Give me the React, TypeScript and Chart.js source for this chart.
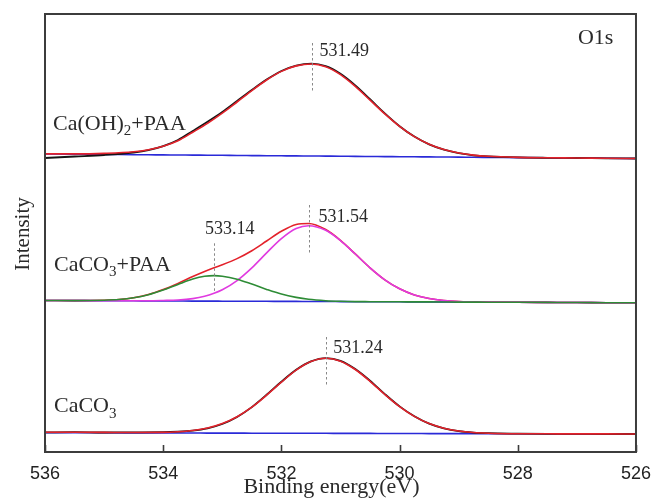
import React, { useEffect, useRef } from "react";
import { Chart, registerables } from "chart.js";

Chart.register(...registerables);

// x axis (binding energy, eV)
const xTickValues = [536, 534, 532, 530, 528, 526];

// ---- Ca(OH)2+PAA ----
const energyA = [536, 535.5, 535, 534.5, 534.25, 534, 533.75, 533.5, 533.25, 533, 532.75, 532.5, 532.25, 532, 531.75, 531.49, 531.25, 531, 530.75, 530.5, 530.25, 530, 529.75, 529.5, 529.25, 529, 528.75, 528.5, 528, 527.5, 527, 526.5, 526];
const rawA = [294.0, 295.5, 297.0, 299.5, 301.8, 305.8, 312.0, 321.0, 330.2, 340.0, 351.0, 362.0, 372.4, 381.0, 386.4, 388.3, 385.8, 378.2, 366.6, 352.8, 338.6, 325.8, 315.4, 307.6, 302.3, 298.8, 296.7, 295.6, 294.6, 294.2, 294.0, 293.7, 293.5];
const fitA = [298.1, 298.1, 298.6, 300.2, 302.3, 305.8, 311.3, 319.8, 328.6, 338.8, 350.0, 361.4, 372.0, 380.6, 386.1, 388.0, 385.3, 377.4, 365.6, 351.9, 338.1, 325.6, 315.4, 307.8, 302.5, 299.0, 296.9, 295.7, 294.6, 294.2, 294.0, 293.7, 293.5];
const bgA = [298.0, 297.8, 297.6, 297.3, 297.2, 297.1, 297.0, 296.9, 296.8, 296.7, 296.5, 296.4, 296.3, 296.2, 296.1, 296.0, 295.9, 295.8, 295.6, 295.5, 295.4, 295.3, 295.2, 295.1, 295.0, 294.9, 294.7, 294.6, 294.4, 294.2, 294.0, 293.7, 293.5];

// ---- CaCO3+PAA ----
const energyB = [536, 535.5, 535, 534.75, 534.5, 534.25, 534, 533.75, 533.5, 533.3, 533.14, 533, 532.75, 532.5, 532.25, 532, 531.75, 531.54, 531.25, 531, 530.75, 530.5, 530.25, 530, 529.75, 529.5, 529.25, 529, 528.5, 528, 527.5, 527, 526.5, 526];
const fitB = [151.5, 151.4, 151.8, 152.5, 154.2, 157.4, 162.4, 168.6, 175.4, 180.5, 184.2, 187.2, 193.4, 201.3, 211.0, 220.7, 227.5, 228.5, 222.5, 211.7, 198.1, 184.2, 172.2, 163.2, 157.1, 153.5, 151.5, 150.5, 149.9, 149.7, 149.6, 149.5, 149.3, 149.2];
const peak53154B = [151.5, 151.4, 151.3, 151.2, 151.2, 151.2, 151.5, 152.0, 153.4, 155.7, 158.7, 162.2, 171.4, 184.1, 199.1, 213.4, 223.5, 226.3, 221.7, 211.4, 198.0, 184.2, 172.2, 163.2, 157.1, 153.5, 151.5, 150.5, 149.9, 149.7, 149.6, 149.5, 149.3, 149.2];
const peak53314B = [151.5, 151.4, 151.8, 152.5, 154.2, 157.3, 162.0, 167.6, 172.9, 175.7, 176.4, 175.8, 172.8, 167.9, 162.6, 157.9, 154.6, 152.7, 151.3, 150.7, 150.4, 150.3, 150.2, 150.2, 150.1, 150.1, 150.0, 149.9, 149.8, 149.7, 149.6, 149.5, 149.3, 149.2];
const bgB = [151.5, 151.4, 151.3, 151.2, 151.2, 151.1, 151.1, 151.0, 150.9, 150.9, 150.9, 150.8, 150.8, 150.7, 150.7, 150.6, 150.6, 150.5, 150.5, 150.4, 150.3, 150.3, 150.2, 150.2, 150.1, 150.1, 150.0, 149.9, 149.8, 149.7, 149.6, 149.5, 149.3, 149.2];

// ---- CaCO3 ----
const energyC = [536, 535.5, 535, 534.5, 534, 533.75, 533.5, 533.25, 533, 532.75, 532.5, 532.25, 532, 531.75, 531.5, 531.24, 531, 530.75, 530.5, 530.25, 530, 529.75, 529.5, 529.25, 529, 528.75, 528.5, 528, 527.5, 527, 526.5, 526];
const rawC = [19.6, 19.9, 19.5, 19.7, 19.8, 20.3, 21.4, 23.7, 28.0, 35.0, 44.9, 57.2, 70.3, 82.2, 90.6, 93.9, 91.2, 83.0, 71.3, 57.9, 45.6, 35.7, 28.3, 23.6, 20.8, 19.4, 18.8, 18.4, 18.2, 18.1, 18.0, 18.0];
const fitC = [19.8, 19.7, 19.6, 19.5, 19.6, 20.2, 21.5, 24.0, 28.4, 35.3, 44.8, 56.8, 69.8, 81.8, 90.4, 93.7, 90.8, 82.5, 70.7, 57.5, 45.4, 35.6, 28.4, 23.8, 21.0, 19.5, 18.8, 18.3, 18.2, 18.1, 18.1, 18.0];
const bgC = [19.3, 19.2, 19.2, 19.1, 19.0, 19.0, 19.0, 18.9, 18.9, 18.9, 18.8, 18.8, 18.8, 18.7, 18.7, 18.7, 18.6, 18.6, 18.6, 18.5, 18.5, 18.5, 18.4, 18.4, 18.4, 18.3, 18.3, 18.2, 18.2, 18.1, 18.1, 18.0];

// peak annotations
const peakEnergies = [531.49, 531.54, 533.14, 531.24];
const peakLabels = ["531.49", "531.54", "533.14", "531.24"];

const SERIF = '"Liberation Serif", "Times New Roman", serif';
const SANS = '"Liberation Sans", Arial, sans-serif';

const BLACK = "#151515";
const RED = "#e3222b";
const BLUE = "#2a2ad8";
const GREEN = "#2e8c36";
const MAGENTA = "#e03ae0";

type Part = [string, boolean];

function drawParts(ctx: CanvasRenderingContext2D, parts: Part[], x: number, y: number, size: number) {
  let cx = x;
  for (const [text, sub] of parts) {
    const s = sub ? Math.round(size * 0.68) : size;
    ctx.font = `${s}px ${SERIF}`;
    ctx.fillText(text, cx, sub ? y + size * 0.24 : y);
    cx += ctx.measureText(text).width;
  }
}

const overlayPlugin = {
  id: "overlay",
  afterDatasetsDraw(chart: any) {
    const { ctx, chartArea: a, scales } = chart;
    const xs = scales.x;
    const ys = scales.y;
    ctx.save();
    // frame
    ctx.strokeStyle = "#3c3c3c";
    ctx.lineWidth = 2;
    ctx.setLineDash([]);
    ctx.strokeRect(a.left, a.top, a.right - a.left, a.bottom - a.top);
    // inward tick marks
    ctx.lineWidth = 1.6;
    for (const v of xTickValues) {
      const px = Math.round(xs.getPixelForValue(v)) + 0.5;
      ctx.beginPath();
      ctx.moveTo(px, a.bottom);
      ctx.lineTo(px, a.bottom - 7);
      ctx.stroke();
    }
    // dashed peak markers
    const spans = [
      [409, 359],
      [247, 197],
      [208.7, 158.7],
      [115, 65.3],
    ];
    const labelOffsets = [
      [8, 396],
      [10, 230.3],
      [-9, 217.7],
      [7, 98.7],
    ];
    ctx.strokeStyle = "#888";
    ctx.lineWidth = 1;
    ctx.setLineDash([2.5, 2.5]);
    peakEnergies.forEach((e, i) => {
      const px = Math.round(xs.getPixelForValue(e)) + 0.5;
      ctx.beginPath();
      ctx.moveTo(px, ys.getPixelForValue(spans[i][0]));
      ctx.lineTo(px, ys.getPixelForValue(spans[i][1]));
      ctx.stroke();
    });
    ctx.setLineDash([]);
    ctx.fillStyle = "#2a2a2a";
    ctx.textAlign = "left";
    ctx.textBaseline = "alphabetic";
    ctx.font = `18px ${SERIF}`;
    peakEnergies.forEach((e, i) => {
      const px = xs.getPixelForValue(e);
      ctx.fillText(peakLabels[i], px + labelOffsets[i][0], ys.getPixelForValue(labelOffsets[i][1]));
    });
    // sample names
    drawParts(ctx, [["Ca(OH)", false], ["2", true], ["+PAA", false]], a.left + 8, ys.getPixelForValue(322), 22);
    drawParts(ctx, [["CaCO", false], ["3", true], ["+PAA", false]], a.left + 9, ys.getPixelForValue(181), 22);
    drawParts(ctx, [["CaCO", false], ["3", true]], a.left + 9, ys.getPixelForValue(39.7), 22);
    // O1s
    ctx.font = `22px ${SERIF}`;
    ctx.fillText("O1s", a.right - 58, ys.getPixelForValue(408.5));
    // axis titles
    ctx.textAlign = "center";
    ctx.font = `22px ${SERIF}`;
    ctx.fillText("Binding energy(eV)", (a.left + a.right) / 2 - 9, 493);
    ctx.save();
    ctx.translate(29, (a.top + a.bottom) / 2 + 1);
    ctx.rotate(-Math.PI / 2);
    ctx.font = `21px ${SERIF}`;
    ctx.fillText("Intensity", 0, 0);
    ctx.restore();
    ctx.restore();
  },
};

function series(label: string, xs: number[], ys: number[], color: string, order: number, width = 1.6) {
  return {
    label,
    data: xs.map((x, i) => ({ x, y: ys[i] })),
    borderColor: color,
    backgroundColor: color,
    borderWidth: width,
    pointRadius: 0,
    fill: false,
    cubicInterpolationMode: "monotone" as const,
    order,
  };
}

export default function App() {
  const ref = useRef<HTMLCanvasElement>(null);
  useEffect(() => {
    document.body.style.margin = "0";
    const canvas = ref.current!;
    const chart = new Chart(canvas, {
      type: "line",
      data: {
        datasets: [
          series("Ca(OH)2+PAA background", energyA, bgA, BLUE, 4),
          series("Ca(OH)2+PAA raw", energyA, rawA, BLACK, 3, 1.8),
          series("Ca(OH)2+PAA fit", energyA, fitA, RED, 2),
          series("CaCO3+PAA background", energyB, bgB, BLUE, 4),
          series("CaCO3+PAA fit", energyB, fitB, RED, 2),
          series("CaCO3+PAA 531.54", energyB, peak53154B, MAGENTA, 1),
          series("CaCO3+PAA 533.14", energyB, peak53314B, GREEN, 0),
          series("CaCO3 background", energyC, bgC, BLUE, 4),
          series("CaCO3 raw", energyC, rawC, BLACK, 3, 1.8),
          series("CaCO3 fit", energyC, fitC, RED, 2),
        ] as any,
      },
      options: {
        animation: false,
        responsive: false,
        devicePixelRatio: 1,
        layout: { padding: { left: 45, right: 16, top: 14, bottom: 0 } },
        plugins: { legend: { display: false }, tooltip: { enabled: false }, title: { display: false } },
        scales: {
          x: {
            type: "linear",
            min: 526,
            max: 536,
            reverse: true,
            grid: { display: false, drawTicks: false },
            border: { display: false },
            afterBuildTicks: (s: any) => {
              s.ticks = xTickValues.map((v) => ({ value: v }));
            },
            afterFit: (s: any) => {
              s.height = 49;
            },
            ticks: {
              padding: 11,
              color: "#222",
              font: { family: SANS, size: 18 },
              maxRotation: 0,
            },
          },
          y: { display: false, min: 0, max: 438 },
        },
      } as any,
      plugins: [overlayPlugin],
    });
    return () => chart.destroy();
  }, []);
  return <canvas ref={ref} width={662} height={501} style={{ display: "block" }} />;
}
